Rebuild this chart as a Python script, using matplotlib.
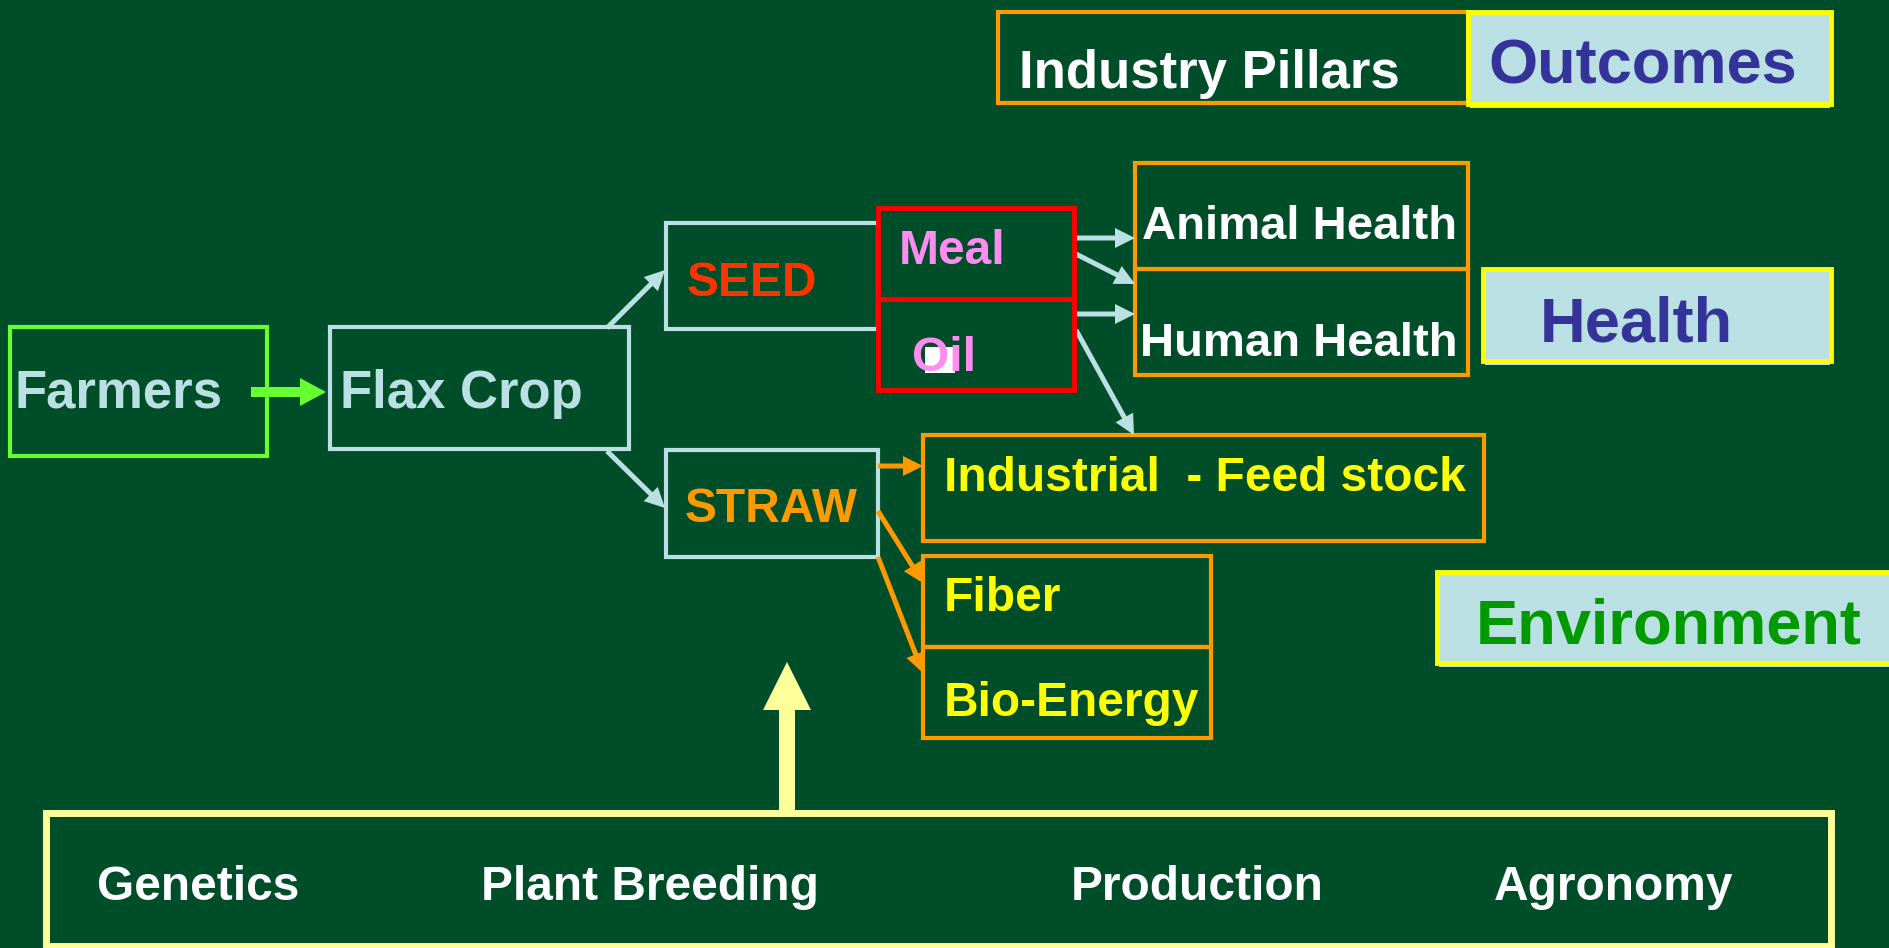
import matplotlib
matplotlib.use('Agg')

import matplotlib.pyplot as plt
from matplotlib import font_manager
from matplotlib.patches import Rectangle

# labels
farm_labels = ["Farmers", "Flax Crop"]
part_labels = ["SEED", "STRAW"]
seed_products = ["Meal", "Oil"]
health_uses = ["Animal Health", "Human Health"]
straw_uses = ["Industrial  - Feed stock", "Fiber", "Bio-Energy"]
pillar_title = "Industry Pillars"
outcomes = ["Outcomes", "Health", "Environment"]
foundations = ["Genetics", "Plant Breeding", "Production", "Agronomy"]

BG = "#004d29"
LBLUE = "#bbe0e3"
ORANGE = "#ff9900"
YELLOW = "#ffff00"
PALEY = "#ffff99"
NAVY = "#333399"

names = {f.name for f in font_manager.fontManager.ttflist}
if "Liberation Sans Narrow" in names:
    narrow, narrow_size = "Liberation Sans Narrow", 46
else:
    narrow, narrow_size = "Liberation Sans", 38
plt.rcParams['font.family'] = ['Liberation Sans', 'DejaVu Sans']

fig = plt.figure(figsize=(18.9, 9.48), dpi=100, facecolor=BG)
ax = fig.add_axes([0, 0, 1, 1])
ax.set_facecolor(BG)
ax.set_xlim(0, 1890)
ax.set_ylim(948, 0)
ax.axis('off')


def box(x0, y0, x1, y1, edge, lw=3, face='none', z=2):
    ax.add_patch(Rectangle((x0, y0), x1 - x0, y1 - y0, facecolor=face,
                           edgecolor=edge, linewidth=lw, zorder=z))


def label(x, y, s, color, size, family=None, z=5):
    kw = dict(family=family) if family else {}
    ax.text(x, y, s, color=color, fontsize=size, fontweight='bold',
            ha='left', va='baseline', zorder=z, **kw)


def arrow(x0, y0, x1, y1, color, w=5, hw=20, hl=20):
    ax.arrow(x0, y0, x1 - x0, y1 - y0, width=w, head_width=hw, head_length=hl,
             length_includes_head=True, color=color, linewidth=0, zorder=3)


# farmers -> flax crop
box(10, 327, 267, 456, "#66ff33")
box(330, 327, 629, 449, LBLUE)
label(14, 408, farm_labels[0], LBLUE, narrow_size, narrow)
label(340, 408, farm_labels[1], LBLUE, narrow_size, narrow)
arrow(251, 392, 326, 392, "#66ff33", w=10, hw=28, hl=26)

# seed / straw
box(666, 223, 878, 329, LBLUE)
box(666, 450, 878, 557, LBLUE)
label(687, 296, part_labels[0], "#ff3300", 34.5)
label(685, 522, part_labels[1], ORANGE, 34.5)
arrow(607, 328, 665, 270, LBLUE)
arrow(607, 451, 665, 508, LBLUE)

# meal / oil
box(878, 208, 1074, 299, "#ff0000", lw=3.5, z=4)
box(878, 299, 1074, 390, "#ff0000", lw=3.5, z=4)
ax.add_patch(Rectangle((925, 347), 30, 26, facecolor="white", edgecolor='none', zorder=4))
label(899, 264, seed_products[0], "#ff8cf0", 34.5)
label(912, 371, seed_products[1], "#ff8cf0", 34.5)

# health boxes
box(1135, 163, 1468, 269, ORANGE)
box(1135, 269, 1468, 375, ORANGE)
label(1142, 239, health_uses[0], "white", 34)
label(1140, 356, health_uses[1], "white", 34)
arrow(1074, 238, 1135, 238, LBLUE)
arrow(1074, 253, 1135, 284, LBLUE)
arrow(1074, 314, 1135, 314, LBLUE)
arrow(1076, 330, 1134, 435, LBLUE)

# straw uses
box(923, 435, 1484, 541, ORANGE)
box(923, 556, 1211, 647, ORANGE)
box(923, 647, 1211, 738, ORANGE)
label(944, 491, straw_uses[0], YELLOW, 34.5)
label(944, 611, straw_uses[1], YELLOW, 34.5)
label(944, 716, straw_uses[2], YELLOW, 34.5)
arrow(878, 466, 923, 466, ORANGE)
arrow(878, 511, 923, 583, ORANGE)
arrow(878, 557, 923, 673, ORANGE)

# header
box(998, 12, 1468, 103, ORANGE)
label(1019, 88, pillar_title, "white", 38)

# outcome boxes (light fill, yellow frame, small shadow)
out_boxes = [(1468, 12, 1831, 104), (1483, 269, 1831, 361), (1437, 572, 1900, 663)]
out_pos = [(1488, 83), (1540, 341), (1476, 643)]
out_colors = [NAVY, NAVY, "#009900"]
for (x0, y0, x1, y1), (tx, ty), c, s in zip(out_boxes, out_pos, out_colors, outcomes):
    ax.add_patch(Rectangle((x0 + 2, y0 + 4), x1 - x0 - 3, y1 - y0, facecolor=LBLUE,
                           edgecolor='none', zorder=1))
    box(x0, y0, x1, y1, YELLOW, lw=3.5, face=LBLUE)
    label(tx, ty, s, c, 45.5)

# foundation bar and big arrow
box(46, 813, 1831, 946, PALEY, lw=5)
arrow(787, 812, 787, 662, PALEY, w=16, hw=48, hl=48)
for x, s in zip([97, 481, 1071, 1494], foundations):
    label(x, 900, s, "white", 34.5)

plt.savefig("out.png", dpi=100, facecolor=BG)
plt.close()
